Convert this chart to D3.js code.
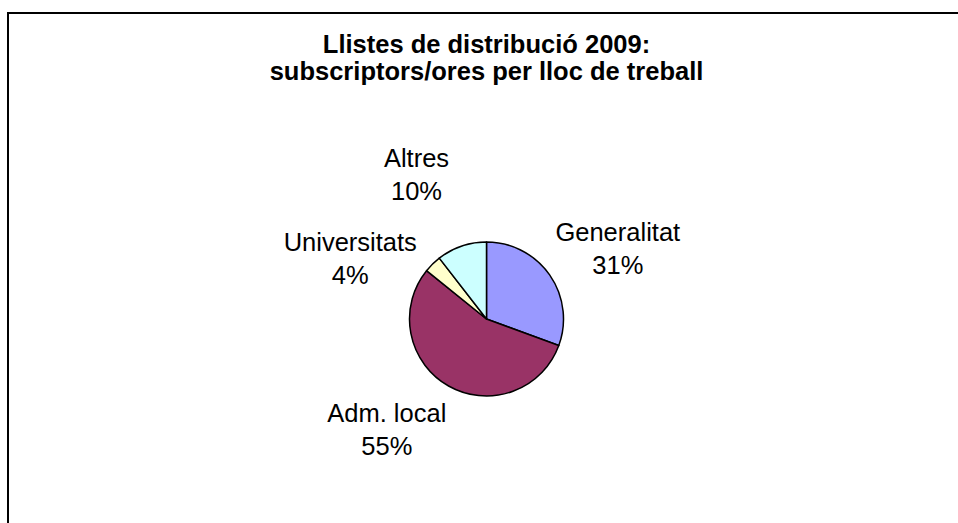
<!DOCTYPE html>
<html><head><meta charset="utf-8">
<script src="https://cdn.jsdelivr.net/npm/d3@7"></script>
<style>html,body{margin:0;padding:0;background:#fff;overflow:hidden}</style>
</head><body>
<svg id="chart" width="958" height="523"></svg>
<script>
const categories = ["Generalitat", "Adm. local", "Universitats", "Altres"];
const values = [30.6, 55.2, 3.7, 10.5];
const pctLabels = ["31%", "55%", "4%", "10%"];
const colors = ["#9999FF", "#993366", "#FFFFCC", "#CCFFFF"];
const titleLines = ["Llistes de distribució 2009:", "subscriptors/ores per lloc de treball"];

const W = 958, H = 523;
const svg = d3.select("#chart");
const font = "'Liberation Sans', Arial, sans-serif";

// chart frame (extends beyond the window on right/bottom)
svg.append("rect").attr("x", 8).attr("y", 13).attr("width", 1000).attr("height", 600)
  .attr("fill", "#fff").attr("stroke", "#000").attr("stroke-width", 2);

const cx = 486.5, cy = 319, r = 77;

// title
svg.append("g").selectAll("text").data(titleLines).join("text")
  .attr("x", cx).attr("y", (d, i) => 53 + i * 27)
  .attr("text-anchor", "middle").attr("font-family", font)
  .attr("font-weight", "bold").attr("font-size", 25.5).attr("fill", "#000")
  .text(d => d);

const data = categories.map((c, i) => ({cat: c, value: values[i], pct: pctLabels[i], color: colors[i]}));
const pie = d3.pie().value(d => d.value).sort(null).startAngle(0).endAngle(2 * Math.PI);
const arcs = pie(data);
const arc = d3.arc().innerRadius(0).outerRadius(r);

const g = svg.append("g").attr("transform", `translate(${cx},${cy})`);
g.selectAll("path").data(arcs).join("path")
  .attr("d", arc).attr("fill", d => d.data.color)
  .attr("stroke", "#000").attr("stroke-width", 1.5).attr("stroke-linejoin", "round");

// labels: ellipse placement around the pie along mid-angle, then vertical de-overlap
const rx = 176, ry = 125, ex = -13, lineH = 33, fs = 25.5;
const boxH = 52, minSep = 84;
const labels = arcs.map(a => {
  const m = (a.startAngle + a.endAngle) / 2;
  return {a, x: ex + rx * Math.sin(m), y: -ry * Math.cos(m), w: a.data.cat.length * 11};
});
for (let iter = 0; iter < 10; iter++) {
  for (let i = 0; i < labels.length; i++) for (let j = i + 1; j < labels.length; j++) {
    const A = labels[i], B = labels[j];
    const ox = Math.abs(A.x - B.x) < (A.w + B.w) / 2;
    const dy = B.y - A.y;
    if (ox && Math.abs(dy) < minSep) {
      const push = (minSep - Math.abs(dy)) / 2 * (dy >= 0 ? 1 : -1);
      A.y -= push; B.y += push;
    }
  }
}
const lg = g.append("g").attr("font-family", font).attr("font-size", fs).attr("fill", "#000");
labels.forEach(L => {
  const t = lg.append("text").attr("text-anchor", "middle");
  const top = L.y - boxH / 2 + 20;
  t.append("tspan").attr("x", L.x).attr("y", top).text(L.a.data.cat);
  t.append("tspan").attr("x", L.x).attr("y", top + lineH).text(L.a.data.pct);
});
</script>
</body></html>
